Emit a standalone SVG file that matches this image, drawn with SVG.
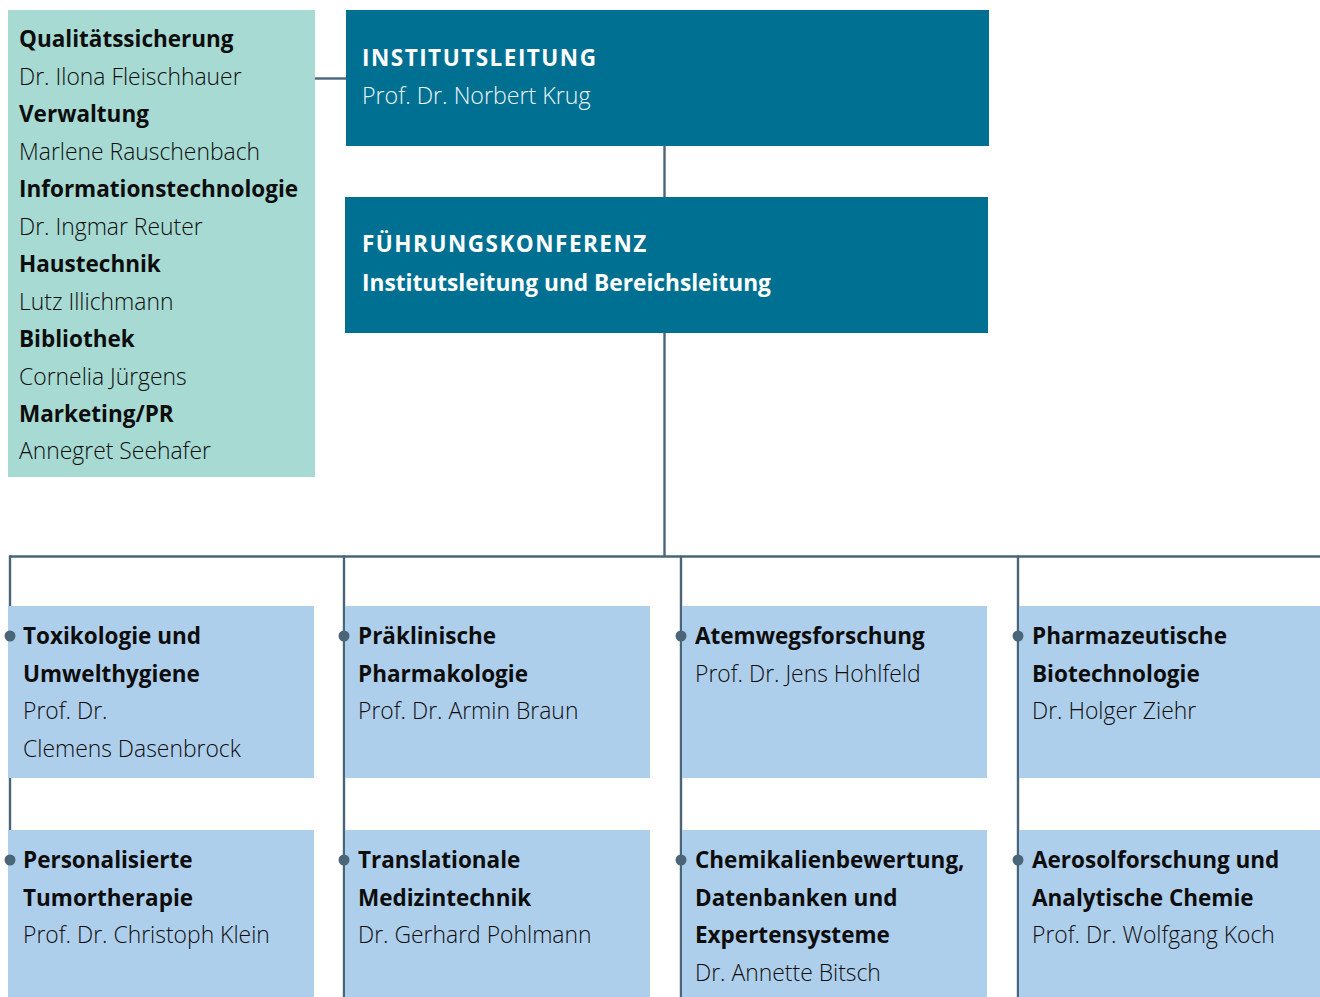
<svg xmlns="http://www.w3.org/2000/svg" width="1320" height="997" viewBox="0 0 1320 997">
  <style>
    .conn { stroke: #4a6577; stroke-width: 2.4; fill: none; }
    .dot { fill: #4a6577; }
    .staff { fill: #a6dad3; }
    .lead { fill: #007092; }
    .dept { fill: #aecfec; }
    text { font-family: "Open Sans", "Noto Sans", "Liberation Sans", sans-serif; }
    .b { font-size: 22.5px; font-weight: 700; fill: #0d0d0d; }
    .n { font-size: 22.9px; font-weight: 300; fill: #0d0d0d; }
    .cap { font-size: 22.5px; font-weight: 700; fill: #ffffff; letter-spacing: 1.5px; }
    .wb { font-size: 22.7px; font-weight: 700; fill: #ffffff; }
    .wn { font-size: 23.2px; font-weight: 300; fill: #eef6f9; }
  </style>

  <!-- connectors -->
  <g id="connectors">
    <line class="conn" x1="315" y1="78.5" x2="346" y2="78.5"/>
    <line class="conn" x1="664.5" y1="146" x2="664.5" y2="197"/>
    <line class="conn" x1="664.5" y1="333" x2="664.5" y2="556.5"/>
    <line class="conn" x1="9" y1="556.5" x2="1320" y2="556.5"/>
    <line class="conn" x1="10" y1="555.5" x2="10" y2="997"/>
    <line class="conn" x1="344" y1="555.5" x2="344" y2="997"/>
    <line class="conn" x1="681" y1="555.5" x2="681" y2="997"/>
    <line class="conn" x1="1018" y1="555.5" x2="1018" y2="997"/>
  </g>

  <!-- staff units -->
  <g id="stabsstellen">
    <rect class="staff" x="8" y="10" width="307" height="467"/>
    <text class="b" x="19" y="47">Qualitätssicherung</text>
    <text class="n" x="19" y="84.5">Dr. Ilona Fleischhauer</text>
    <text class="b" x="19" y="122">Verwaltung</text>
    <text class="n" x="19" y="159.5">Marlene Rauschenbach</text>
    <text class="b" x="19" y="197">Informationstechnologie</text>
    <text class="n" x="19" y="234.5">Dr. Ingmar Reuter</text>
    <text class="b" x="19" y="272">Haustechnik</text>
    <text class="n" x="19" y="309.5">Lutz Illichmann</text>
    <text class="b" x="19" y="347">Bibliothek</text>
    <text class="n" x="19" y="384.5">Cornelia Jürgens</text>
    <text class="b" x="19" y="422">Marketing/PR</text>
    <text class="n" x="19" y="459">Annegret Seehafer</text>
  </g>

  <g id="institutsleitung">
    <rect class="lead" x="346" y="10" width="643" height="136"/>
    <text class="cap" x="362" y="66">INSTITUTSLEITUNG</text>
    <text class="wn" x="362" y="104">Prof. Dr. Norbert Krug</text>
  </g>

  <g id="fuehrungskonferenz">
    <rect class="lead" x="345" y="197" width="643" height="136"/>
    <text class="cap" x="362" y="252">FÜHRUNGSKONFERENZ</text>
    <text class="wb" x="362" y="291">Institutsleitung und Bereichsleitung</text>
  </g>

  <!-- departments, row 1 -->
  <g id="toxikologie">
    <rect class="dept" x="8" y="606" width="306" height="172"/>
    <circle class="dot" cx="10" cy="636" r="5.5"/>
    <text class="b" x="23" y="644">Toxikologie und</text>
    <text class="b" x="23" y="681.5">Umwelthygiene</text>
    <text class="n" x="23" y="719">Prof. Dr.</text>
    <text class="n" x="23" y="756.5">Clemens Dasenbrock</text>
  </g>
  <g id="praeklinische-pharmakologie">
    <rect class="dept" x="345" y="606" width="305" height="172"/>
    <circle class="dot" cx="344" cy="636" r="5.5"/>
    <text class="b" x="358" y="644">Präklinische</text>
    <text class="b" x="358" y="681.5">Pharmakologie</text>
    <text class="n" x="358" y="719">Prof. Dr. Armin Braun</text>
  </g>
  <g id="atemwegsforschung">
    <rect class="dept" x="682" y="606" width="305" height="172"/>
    <circle class="dot" cx="681" cy="636" r="5.5"/>
    <text class="b" x="695" y="644">Atemwegsforschung</text>
    <text class="n" x="695" y="681.5">Prof. Dr. Jens Hohlfeld</text>
  </g>
  <g id="pharmazeutische-biotechnologie">
    <rect class="dept" x="1019" y="606" width="301" height="172"/>
    <circle class="dot" cx="1018" cy="636" r="5.5"/>
    <text class="b" x="1032" y="644">Pharmazeutische</text>
    <text class="b" x="1032" y="681.5">Biotechnologie</text>
    <text class="n" x="1032" y="719">Dr. Holger Ziehr</text>
  </g>

  <!-- departments, row 2 -->
  <g id="tumortherapie">
    <rect class="dept" x="8" y="830" width="306" height="167"/>
    <circle class="dot" cx="10" cy="860" r="5.5"/>
    <text class="b" x="23" y="868">Personalisierte</text>
    <text class="b" x="23" y="905.5">Tumortherapie</text>
    <text class="n" x="23" y="943">Prof. Dr. Christoph Klein</text>
  </g>
  <g id="medizintechnik">
    <rect class="dept" x="345" y="830" width="305" height="167"/>
    <circle class="dot" cx="344" cy="860" r="5.5"/>
    <text class="b" x="358" y="868">Translationale</text>
    <text class="b" x="358" y="905.5">Medizintechnik</text>
    <text class="n" x="358" y="943">Dr. Gerhard Pohlmann</text>
  </g>
  <g id="chemikalienbewertung">
    <rect class="dept" x="682" y="830" width="305" height="167"/>
    <circle class="dot" cx="681" cy="860" r="5.5"/>
    <text class="b" x="695" y="868">Chemikalienbewertung,</text>
    <text class="b" x="695" y="905.5">Datenbanken und</text>
    <text class="b" x="695" y="943">Expertensysteme</text>
    <text class="n" x="695" y="980.5">Dr. Annette Bitsch</text>
  </g>
  <g id="aerosolforschung">
    <rect class="dept" x="1019" y="830" width="301" height="167"/>
    <circle class="dot" cx="1018" cy="860" r="5.5"/>
    <text class="b" x="1032" y="868">Aerosolforschung und</text>
    <text class="b" x="1032" y="905.5">Analytische Chemie</text>
    <text class="n" x="1032" y="943">Prof. Dr. Wolfgang Koch</text>
  </g>
</svg>
